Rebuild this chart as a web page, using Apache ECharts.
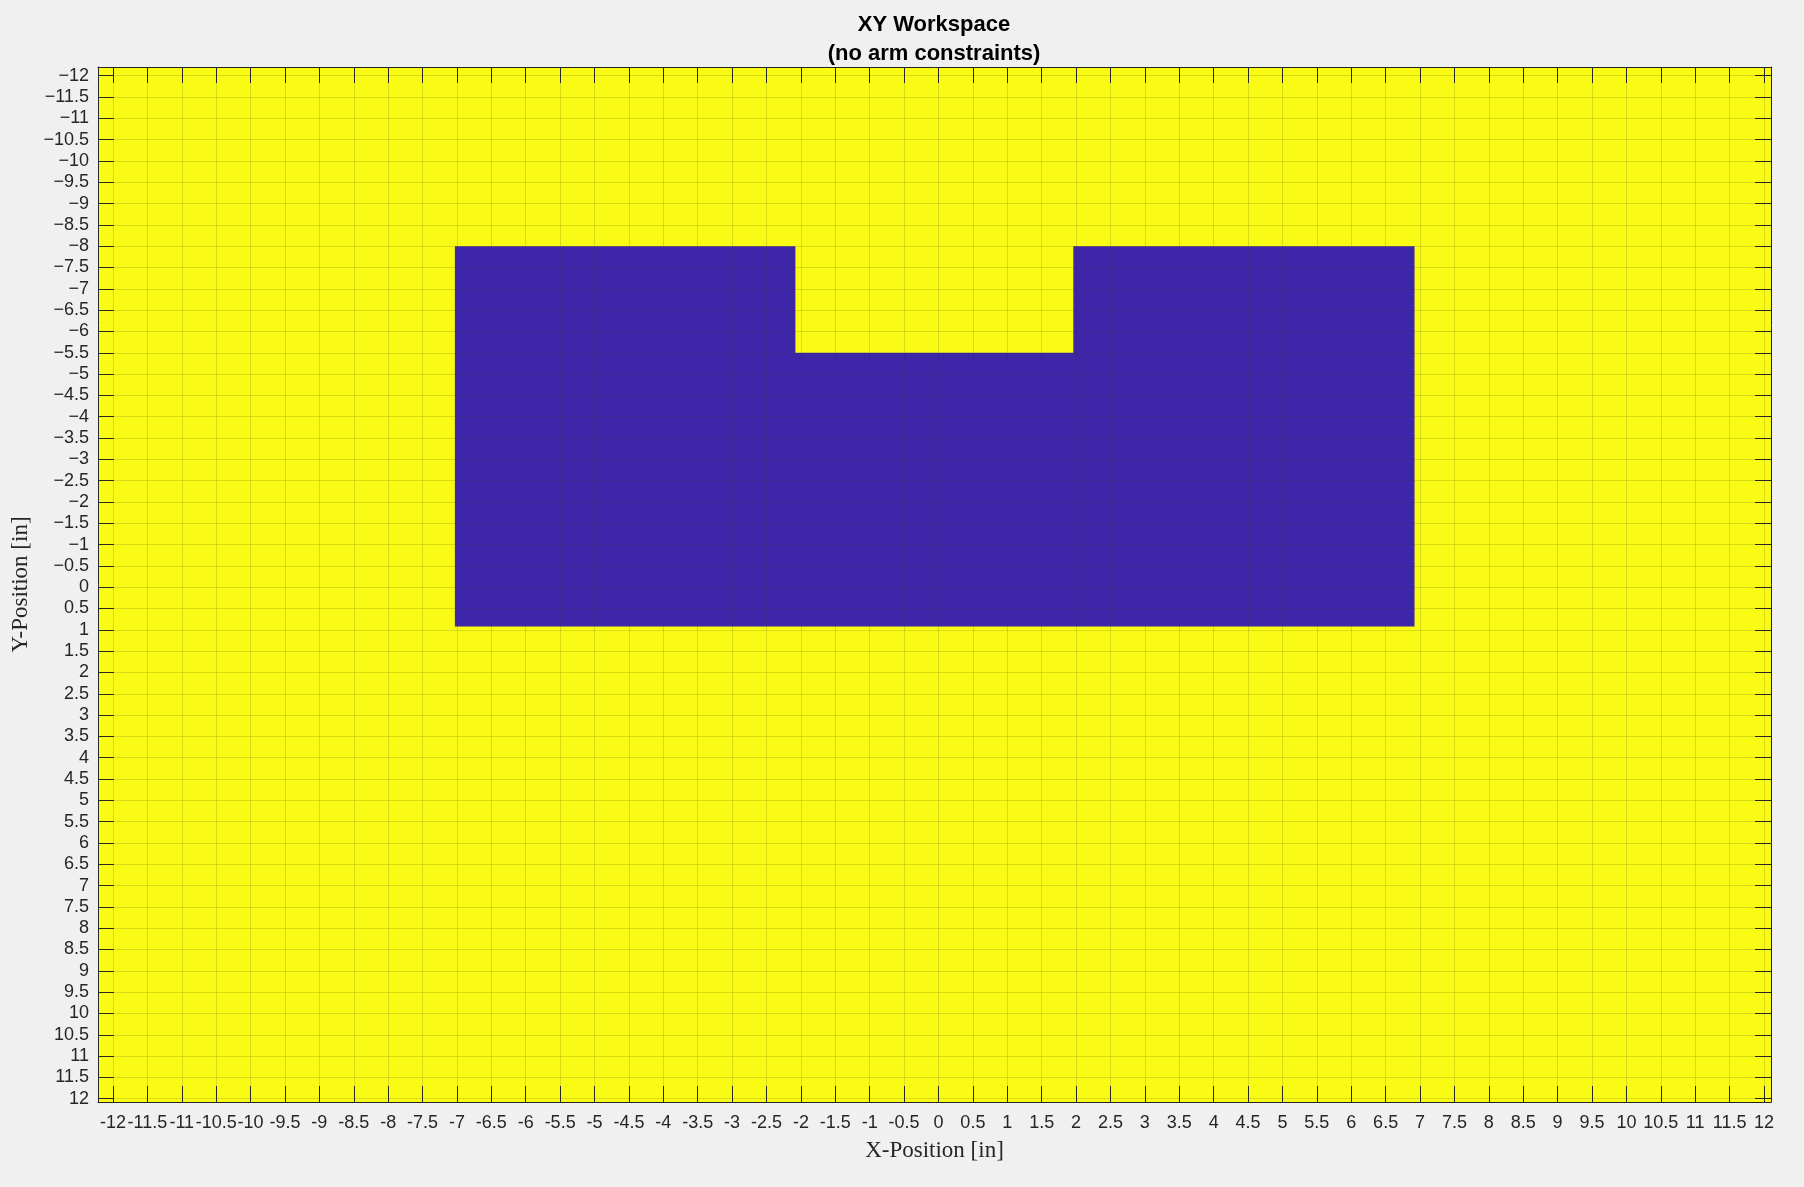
<!DOCTYPE html>
<html>
<head>
<meta charset="utf-8">
<title>XY Workspace</title>
<script src="https://cdn.jsdelivr.net/npm/echarts@6/dist/echarts.min.js"></script>
<style>
	html, body { margin: 0; padding: 0; background: #f0f0f0; }
	#main { width: 1804px; height: 1187px; }
</style>
</head>
<body>
<div id="main"></div>
<script>
// tick values on both axes
var xTicks = [-12, -11.5, -11, -10.5, -10, -9.5, -9, -8.5, -8, -7.5, -7, -6.5, -6, -5.5, -5, -4.5, -4, -3.5, -3, -2.5, -2, -1.5, -1, -0.5, 0, 0.5, 1, 1.5, 2, 2.5, 3, 3.5, 4, 4.5, 5, 5.5, 6, 6.5, 7, 7.5, 8, 8.5, 9, 9.5, 10, 10.5, 11, 11.5, 12];
var yTicks = [-12, -11.5, -11, -10.5, -10, -9.5, -9, -8.5, -8, -7.5, -7, -6.5, -6, -5.5, -5, -4.5, -4, -3.5, -3, -2.5, -2, -1.5, -1, -0.5, 0, 0.5, 1, 1.5, 2, 2.5, 3, 3.5, 4, 4.5, 5, 5.5, 6, 6.5, 7, 7.5, 8, 8.5, 9, 9.5, 10, 10.5, 11, 11.5, 12];

// extent of the image (value 1 = free space)
var imageX = [-12.218, 12.102];
var imageY = [-12.204, 12.077];

// outline of the region with value 0
var shapeX = [-7.03, -2.08, -2.08, 1.96, 1.96, 6.92, 6.92, -7.03];
var shapeY = [-8.0, -8.0, -5.5, -5.5, -8.0, -8.0, 0.92, 0.92];

var lineColor = '#262626';
var gridColor = 'rgba(38,38,38,0.15)';
var font = '"Liberation Sans", Arial, Helvetica, sans-serif';
var serif = '"Liberation Serif", "Times New Roman", serif';

var myChart = echarts.init(document.getElementById('main'));

// y ticks get a real minus sign like matlab;
// x keeps the hyphen, otherwise echarts drops the label next to -12
function minusText(v) {
	return String(v).replace('-', '\u2212');
}

function boxAxis(pos, ticks, isY) {
	var main = (pos === 'bottom' || pos === 'left');
	var axis = {
		type: 'value',
		position: pos,
		min: isY ? imageY[0] : imageX[0],
		max: isY ? imageY[1] : imageX[1],
		z: 5,
		axisLine: { show: true, onZero: false, lineStyle: { color: lineColor, width: 1 } },
		axisTick: { show: true, inside: true, length: 16, customValues: ticks, lineStyle: { color: lineColor, width: 1 } },
		axisLabel: {
			show: main,
			customValues: ticks,
			showMinLabel: true,
			showMaxLabel: true,
			hideOverlap: false,
			color: lineColor,
			fontFamily: font,
			fontSize: 18,
			margin: isY ? 9 : 12
		},
		splitLine: { show: main, lineStyle: { color: gridColor, width: 1 } }
	};
	if (isY) {
		axis.inverse = true;
		axis.axisLabel.formatter = minusText;
	}
	return axis;
}

var xMain = boxAxis('bottom', xTicks, false);
xMain.name = 'X-Position [in]';
xMain.nameLocation = 'middle';
xMain.nameGap = 37;
xMain.nameTextStyle = { fontFamily: serif, fontSize: 23, color: lineColor };

var yMain = boxAxis('left', yTicks, true);
yMain.name = 'Y-Position [in]';
yMain.nameLocation = 'middle';
yMain.nameGap = 58;
yMain.nameTextStyle = { fontFamily: serif, fontSize: 23, color: lineColor };

var option = {
	backgroundColor: '#f0f0f0',
	animation: false,
	title: {
		text: 'XY Workspace\n(no arm constraints)',
		left: 929,
		top: 5,
		textAlign: 'center',
		textStyle: { fontFamily: font, fontSize: 22, fontWeight: 'bold', color: '#000', lineHeight: 29 }
	},
	grid: { left: 98, top: 67, right: 33, bottom: 85, containLabel: false, outerBoundsMode: 'none' },
	xAxis: [xMain, boxAxis('top', xTicks, false)],
	yAxis: [yMain, boxAxis('right', yTicks, true)],
	series: [{
			// free space
			type: 'custom',
			z: 1,
			silent: true,
			data: [[imageX[0], imageX[1], imageY[0], imageY[1]]],
			renderItem: function(params, api) {
				var p0 = api.coord([api.value(0), api.value(2)]);
				var p1 = api.coord([api.value(1), api.value(3)]);
				return {
					type: 'rect',
					shape: { x: Math.min(p0[0], p1[0]), y: Math.min(p0[1], p1[1]), width: Math.abs(p1[0] - p0[0]), height: Math.abs(p1[1] - p0[1]) },
					style: { fill: '#f9fb15' }
				};
			}
		},
		{
			// workspace region
			type: 'custom',
			z: 2,
			silent: true,
			data: shapeX.map(function(x, i) { return [x, shapeY[i]]; }),
			renderItem: function(params, api) {
				if (params.dataIndex !== 0) return;
				var pts = [];
				for (var i = 0; i < shapeX.length; i++) {
					pts.push(api.coord([shapeX[i], shapeY[i]]));
				}
				return {
					type: 'polygon',
					shape: { points: pts },
					style: { fill: '#3e26a8' }
				};
			}
		}
	]
};
myChart.setOption(option);
</script>
</body>
</html>
